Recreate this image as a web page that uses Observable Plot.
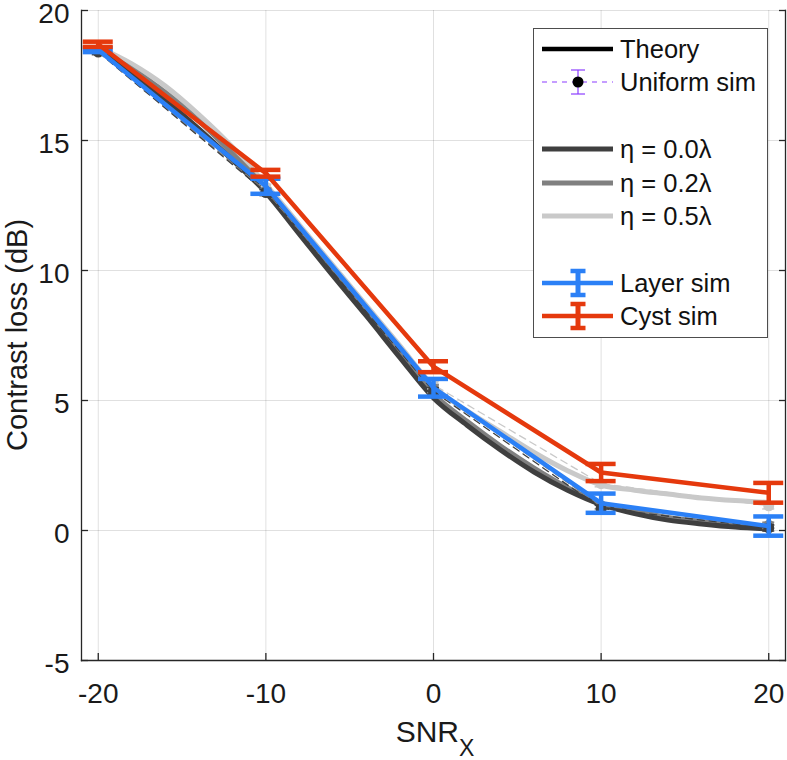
<!DOCTYPE html>
<html><head><meta charset="utf-8">
<script src="https://cdn.jsdelivr.net/npm/d3@7"></script>
<script src="https://cdn.jsdelivr.net/npm/@observablehq/plot@0.6"></script>
<style>
body{margin:0;background:#fff;}
#wrap{position:relative;width:787px;height:760px;}
svg{font-family:"Liberation Sans",Arial,Helvetica,sans-serif;}
</style></head><body><div id="wrap"></div>
<script>
// ---- data ----
const snrTheory   = [-20,-18,-16,-14,-12,-10,-8,-6,-4,-2,0,2,4,6,8,10,12,14,16,18,20];
const theoryEta00 = [18.5,17.55,16.55,15.45,14.25,13.0,11.4,9.8,8.25,6.65,5.1,4.05,3.1,2.25,1.55,1.0,0.65,0.4,0.25,0.13,0.06];
const theoryEta02 = [18.5,17.75,16.85,15.75,14.5,13.15,11.55,9.95,8.4,6.8,5.25,4.2,3.25,2.4,1.65,1.05,0.75,0.5,0.35,0.22,0.15];
const theoryEta05 = [18.6,17.95,17.1,16.0,14.75,13.3,11.75,10.2,8.65,7.1,5.55,4.6,3.8,3.0,2.3,1.75,1.55,1.4,1.25,1.15,1.08];

const snrSim       = [-20,-10,0,10,20];
const uniformEta00 = [18.4,13.0,5.35,0.85,0.1];
const uniformEta02 = [18.45,13.05,5.45,0.95,0.2];
const uniformEta05 = [18.5,13.2,5.6,1.8,0.95];
const uniformErr   = [0.1,0.12,0.15,0.12,0.12];
const layerSim     = [18.48,13.24,5.49,1.05,0.17];
const layerErr     = [0.08,0.29,0.34,0.37,0.37];
const cystSim      = [18.7,13.74,6.3,2.23,1.45];
const cystErr      = [0.1,0.13,0.21,0.33,0.38];

const xTicks = [-20,-10,0,10,20];
const yTicks = [-5,0,5,10,15,20];
const legendLabels = ["Theory","Uniform sim","η = 0.0λ","η = 0.2λ","η = 0.5λ","Layer sim","Cyst sim"];

// ---- styles ----
const grays = ["#3f3f3f","#808080","#c9c9c9"];
const blue = "#2b80f6";
const red = "#e5390d";
const purple = "#8b3dff";
const axisColor = "#262626";

const rows = (xs, ys, errs) => xs.map((x,i)=>({x, y: ys[i], e: errs ? errs[i] : 0}));
const theory = [theoryEta00, theoryEta02, theoryEta05].map(a => rows(snrTheory, a));
const uniform = [uniformEta00, uniformEta02, uniformEta05].map(a => rows(snrSim, a, uniformErr));
const layer = rows(snrSim, layerSim, layerErr);
const cyst = rows(snrSim, cystSim, cystErr);

function errMarks(data, color, sw, capHalf, capSw) {
  return [
    Plot.ruleX(data, {x: "x", y1: d => d.y - d.e, y2: d => d.y + d.e, stroke: color, strokeWidth: sw}),
    Plot.ruleY(data, {y: d => d.y - d.e, x1: "x", x2: "x", insetLeft: -capHalf, insetRight: -capHalf, stroke: color, strokeWidth: capSw}),
    Plot.ruleY(data, {y: d => d.y + d.e, x1: "x", x2: "x", insetLeft: -capHalf, insetRight: -capHalf, stroke: color, strokeWidth: capSw})
  ];
}

const marks = [
  Plot.gridX(xTicks, {stroke: "#000", strokeOpacity: 0.12, strokeWidth: 1}),
  Plot.gridY(yTicks, {stroke: "#000", strokeOpacity: 0.12, strokeWidth: 1}),
];
[2,1,0].forEach(k => marks.push(Plot.line(theory[k], {x: "x", y: "y", stroke: grays[k], strokeWidth: 5, curve: "monotone-x"})));
[2,1,0].forEach(k => {
  marks.push(Plot.line(uniform[k], {x: "x", y: "y", stroke: grays[k], strokeWidth: 1.3, strokeDasharray: "7,5"}));
  marks.push(...errMarks(uniform[k], grays[k], 1.5, 6, 1.5));
  marks.push(Plot.dot(uniform[k], {x: "x", y: "y", r: 5.5, fill: grays[k], stroke: "none"}));
});
marks.push(Plot.line(layer, {x: "x", y: "y", stroke: blue, strokeWidth: 4.5}));
marks.push(...errMarks(layer, blue, 4.5, 15, 4.5));
marks.push(Plot.line(cyst, {x: "x", y: "y", stroke: red, strokeWidth: 4.5}));
marks.push(...errMarks(cyst, red, 4.5, 15, 4.5));
const fmt = d => String(d);
marks.push(
  Plot.frame({anchor: "left", stroke: axisColor, strokeWidth: 1.3}),
  Plot.frame({anchor: "bottom", stroke: axisColor, strokeWidth: 1.3}),
  Plot.frame({anchor: "right", stroke: axisColor, strokeWidth: 1.3}),
  Plot.axisX(xTicks, {anchor: "bottom", tickSize: 0, tickPadding: 23, tickFormat: fmt, label: null, fontSize: 28, fill: "#1a1a1a"}),
  Plot.axisY(yTicks, {anchor: "left", tickSize: 0, tickPadding: 12, dy: 4, tickFormat: fmt, label: null, fontSize: 28, fill: "#1a1a1a"}),
  Plot.axisX(xTicks, {anchor: "bottom", tickSize: -7, tickFormat: () => "", label: null, stroke: axisColor, strokeWidth: 1.3}),
  Plot.axisY(yTicks, {anchor: "left", tickSize: -7, tickFormat: () => "", label: null, stroke: axisColor, strokeWidth: 1.3}),
  Plot.axisY(yTicks, {anchor: "right", tickSize: -7, tickFormat: () => "", label: null, stroke: axisColor, strokeWidth: 1.3})
);

const chart = Plot.plot({
  width: 787, height: 760,
  marginLeft: 81, marginRight: 2, marginTop: 10, marginBottom: 100,
  x: {domain: [-21, 21]},
  y: {domain: [-5, 20]},
  style: {fontFamily: '"Liberation Sans", Arial, sans-serif', fontSize: "28px", color: "#1a1a1a", background: "#fff", overflow: "visible"},
  marks
});
document.getElementById("wrap").appendChild(chart);

// ---- axis titles ----
const svg = d3.select(chart);
const xl = svg.append("text").attr("x", 435).attr("y", 742).attr("text-anchor", "middle")
  .attr("font-size", 30).attr("fill", "#1a1a1a").text("SNR");
xl.append("tspan").attr("font-size", 23).attr("dy", 14).text("X");
svg.append("text").attr("transform", "translate(27,335) rotate(-90)").attr("text-anchor", "middle")
  .attr("font-size", 29).attr("fill", "#1a1a1a").text("Contrast loss (dB)");

// ---- legend ----
const lg = svg.append("g");
lg.append("rect").attr("x", 533.5).attr("y", 28.5).attr("width", 234).attr("height", 309)
  .attr("fill", "#fff").attr("stroke", "#4d4d4d").attr("stroke-width", 1);
const rowY = [49, 82, 149, 183, 216, 283, 316];
const x0 = 542, x1 = 613, xm = 578, xt = 620;
legendLabels.forEach((lab, i) => {
  lg.append("text").attr("x", xt).attr("y", rowY[i]).attr("dy", "0.36em").attr("text-anchor", "start")
    .attr("font-size", 25.5).attr("fill", "#111").text(lab);
});
lg.append("line").attr("x1", x0).attr("x2", x1).attr("y1", rowY[0]).attr("y2", rowY[0]).attr("stroke", "#000").attr("stroke-width", 4.5);
lg.append("line").attr("x1", x0).attr("x2", x1).attr("y1", rowY[1]).attr("y2", rowY[1]).attr("stroke", purple).attr("stroke-width", 1.2).attr("stroke-dasharray", "5,5");
lg.append("line").attr("x1", xm).attr("x2", xm).attr("y1", rowY[1]-12).attr("y2", rowY[1]+12).attr("stroke", purple).attr("stroke-width", 1.2);
[-12, 12].forEach(d => lg.append("line").attr("x1", xm-7).attr("x2", xm+7).attr("y1", rowY[1]+d).attr("y2", rowY[1]+d).attr("stroke", purple).attr("stroke-width", 1.2));
lg.append("circle").attr("cx", xm).attr("cy", rowY[1]).attr("r", 5.5).attr("fill", "#000");
[0,1,2].forEach(k => lg.append("line").attr("x1", x0).attr("x2", x1).attr("y1", rowY[2+k]).attr("y2", rowY[2+k]).attr("stroke", grays[k]).attr("stroke-width", 5));
[[blue, rowY[5]], [red, rowY[6]]].forEach(([c, y]) => {
  lg.append("line").attr("x1", x0).attr("x2", x1).attr("y1", y).attr("y2", y).attr("stroke", c).attr("stroke-width", 4.5);
  lg.append("line").attr("x1", xm).attr("x2", xm).attr("y1", y-12).attr("y2", y+12).attr("stroke", c).attr("stroke-width", 5);
  [-12, 12].forEach(d => lg.append("line").attr("x1", xm-7.5).attr("x2", xm+7.5).attr("y1", y+d).attr("y2", y+d).attr("stroke", c).attr("stroke-width", 4.5));
});
</script></body></html>
